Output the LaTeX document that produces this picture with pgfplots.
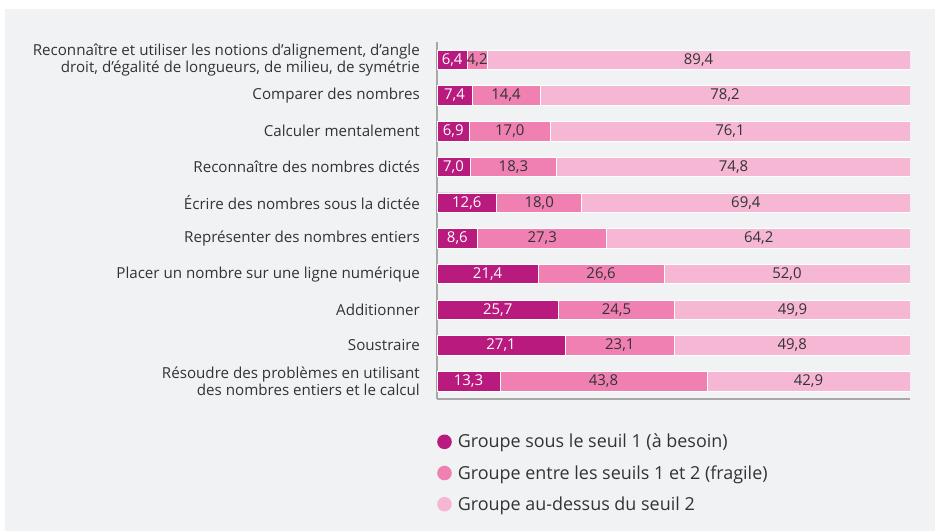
\documentclass[border=0pt]{standalone}
\usepackage{pgfplots}
\usepackage{pgfplotstable}
\pgfplotsset{compat=1.18}
\usepackage{fontspec}
\setmainfont{Open Sans}
\definecolor{bgc}{HTML}{F1F2F4}
\definecolor{c1}{HTML}{B81A7D}
\definecolor{c2}{HTML}{F080B2}
\definecolor{c3}{HTML}{F5B7D4}
\definecolor{txt}{HTML}{333333}
\definecolor{axc}{HTML}{A8A8A8}
\pgfplotstableread{
idx a b c
0 6.4 4.2 89.4
1 7.4 14.4 78.2
2 6.9 17.0 76.1
3 7.0 18.3 74.8
4 12.6 18.0 69.4
5 8.6 27.3 64.2
6 21.4 26.6 52.0
7 25.7 24.5 49.9
8 27.1 23.1 49.8
9 13.3 43.8 42.9
}\datatable
\pgfplotsset{
  common/.style={
    at={(437bp,132bp)}, anchor=south west,
    scale only axis, width=473bp, height=357bp,
    xmin=0, xmax=100, ymin=-0.5, ymax=9.5, y dir=reverse,
  },
  lab/.style={draw=none, mark=none, nodes near coords,
    point meta=explicit,
    nodes near coords={\pgfmathprintnumber[assume math mode=true,use comma,fixed,fixed zerofill,precision=1]{\pgfplotspointmeta}},
    every node near coord/.append style={anchor=center, text=txt, inner sep=0pt,
      font=\fontsize{15}{17}\selectfont}},
}
\begin{document}
\begin{tikzpicture}
\fill[white] (0bp,0bp) rectangle (935bp,531bp);
\fill[bgc] (5bp,0bp) rectangle (935bp,522bp);
\begin{axis}[common,
  xbar stacked, bar width=19.5bp,
  axis x line*=bottom, axis y line*=left,
  axis line style={draw=axc, line width=1.2bp, -},
  xtick=\empty, ytick={0,...,9}, major tick length=0pt,
  yticklabels={{Reconnaître et utiliser les notions d’alignement, d’angle\\droit, d’égalité de longueurs, de milieu, de symétrie},
    Comparer des nombres, Calculer mentalement, Reconnaître des nombres dictés,
    Écrire des nombres sous la dictée, Représenter des nombres entiers,
    Placer un nombre sur une ligne numérique, Additionner, Soustraire,
    {Résoudre des problèmes en utilisant\\des nombres entiers et le calcul}},
  yticklabel style={align=right, inner sep=0pt, xshift=-17bp, text=txt,
    font=\fontsize{15.2}{17}\selectfont},
  legend style={at={(axis description cs:0,0)}, anchor=north west, yshift=-35bp,
    draw=none, fill=none, font=\fontsize{18}{20}\selectfont, text=txt,
    row sep=16bp, inner sep=0pt, nodes={inner sep=0bp},
    /tikz/every odd column/.append style={column sep=6bp}},
  legend cell align=left,
  legend image code/.code={\fill[#1,draw=none] (7bp,0bp) circle (7.3bp);},
]
\addplot[fill=c1, draw=white, line width=0.8bp] table[x=a, y=idx] {\datatable};
\addplot[fill=c2, draw=white, line width=0.8bp] table[x=b, y=idx] {\datatable};
\addplot[fill=c3, draw=white, line width=0.8bp] table[x=c, y=idx] {\datatable};
\legend{Groupe sous le seuil 1 (à besoin), Groupe entre les seuils 1 et 2 (fragile), Groupe au-dessus du seuil 2}
\end{axis}
\begin{axis}[common, hide axis, clip=false]
\addplot[lab, every node near coord/.append style={text=white}]
  table[x expr={0.5*\thisrow{a}}, y=idx, meta=a] {\datatable};
\addplot[lab]
  table[x expr={\thisrow{a}+0.5*\thisrow{b}}, y=idx, meta=b] {\datatable};
\addplot[lab]
  table[x expr={\thisrow{a}+\thisrow{b}+0.5*\thisrow{c}}, y=idx, meta=c] {\datatable};
\end{axis}
\end{tikzpicture}
\end{document}
